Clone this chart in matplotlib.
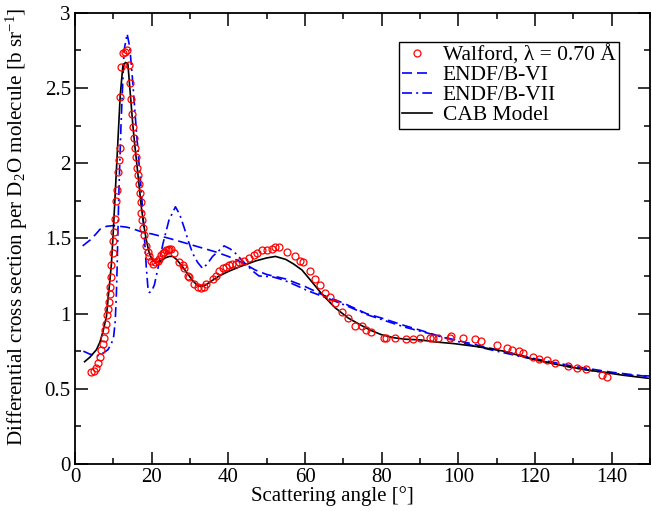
import matplotlib
matplotlib.use("Agg")
import matplotlib.pyplot as plt
from matplotlib.ticker import MultipleLocator

plt.rcParams['font.family'] = ['Liberation Serif', 'DejaVu Serif']
plt.rcParams['mathtext.fontset'] = 'custom'
plt.rcParams['mathtext.rm'] = 'Liberation Serif'
plt.rcParams['mathtext.it'] = 'Liberation Serif:italic'

# Walford measurement, lambda = 0.70 A
walford_angle = [4.3, 4.9, 5.4, 6.0, 6.6, 6.9, 7.2, 7.5, 7.9, 8.2, 8.4, 8.6, 8.9, 9.1,
                 9.2, 9.3, 9.4, 9.8, 9.9, 10.2, 10.5, 10.8, 11.0, 11.2, 11.4, 11.7,
                 11.8, 12.1, 12.5, 13.0, 13.6, 14.1, 14.3, 14.5, 14.9, 15.1, 15.4,
                 15.6, 16.0, 16.2, 16.4, 16.7, 16.9, 17.1, 17.3, 17.5, 17.8, 18.1,
                 18.6, 19.0, 19.4, 19.9, 20.3, 21.0, 21.6, 22.0, 22.5, 22.9, 23.3,
                 23.8, 24.2, 24.6, 25.1, 25.9, 27.2, 28.1, 28.5, 29.4, 29.8, 31.1,
                 32.0, 32.8, 33.7, 34.1, 35.9, 36.7, 37.6, 38.5, 39.3, 40.2, 41.0,
                 41.9, 42.8, 44.1, 45.4, 46.7, 47.5, 48.8, 50.1, 51.4, 52.3, 53.3,
                 55.3, 57.5, 58.8, 59.6, 61.4, 62.7, 64.0, 65.3, 66.5, 67.8, 69.6,
                 71.3, 73.0, 74.8, 76.0, 77.2, 80.6, 81.2, 83.4, 86.4, 88.2, 90.1,
                 92.5, 93.3, 94.6, 97.7, 98.0, 101.1, 104.3, 106.0, 110.0, 112.8,
                 114.1, 115.8, 116.9, 119.5, 121.0, 123.0, 125.3, 128.5, 130.9,
                 133.3, 137.4, 138.9]
walford_xs = [0.61, 0.62, 0.64, 0.67, 0.71, 0.76, 0.80, 0.84, 0.89, 0.93, 0.99, 1.03,
              1.08, 1.13, 1.18, 1.24, 1.32, 1.40, 1.48, 1.54, 1.63, 1.75, 1.82, 1.94,
              2.02, 2.10, 2.44, 2.64, 2.73, 2.74, 2.75, 2.65, 2.53, 2.43, 2.33, 2.24,
              2.17, 2.10, 2.04, 1.97, 1.92, 1.86, 1.80, 1.74, 1.67, 1.62, 1.57, 1.52,
              1.45, 1.41, 1.38, 1.35, 1.33, 1.34, 1.35, 1.36, 1.39, 1.40, 1.41, 1.42,
              1.42, 1.43, 1.43, 1.40, 1.34, 1.32, 1.30, 1.25, 1.24, 1.20, 1.18, 1.17,
              1.18, 1.20, 1.23, 1.25, 1.28, 1.30, 1.31, 1.32, 1.33, 1.33, 1.34, 1.35,
              1.37, 1.39, 1.40, 1.42, 1.42, 1.43, 1.44, 1.44, 1.41, 1.38, 1.35, 1.34,
              1.28, 1.23, 1.19, 1.14, 1.11, 1.07, 1.01, 0.97, 0.92, 0.92, 0.89, 0.88,
              0.84, 0.84, 0.84, 0.83, 0.83, 0.84, 0.84, 0.84, 0.84, 0.84, 0.85, 0.84,
              0.83, 0.82, 0.79, 0.77, 0.76, 0.75, 0.74, 0.71, 0.70, 0.69, 0.67, 0.65,
              0.64, 0.63, 0.59, 0.58]

# ENDF/B-VI
endf6_angle = [2.0, 4.0, 5.5, 6.5, 8.2, 10.0, 13.4, 15.0, 17.7, 20.0, 24.6, 30.0,
               36.7, 40.0, 43.6, 47.0, 50.0, 55.0, 60.0, 65.0, 70.0, 76.0, 80.0,
               86.0, 90.0, 95.0, 100.0, 105.0, 110.0, 115.0, 120.0, 125.0, 130.0,
               135.0, 140.0, 145.0, 150.0]
endf6_xs = [1.45, 1.49, 1.53, 1.56, 1.58, 1.585, 1.575, 1.565, 1.54, 1.53, 1.50, 1.46,
            1.41, 1.38, 1.34, 1.29, 1.26, 1.23, 1.18, 1.12, 1.07, 1.00, 0.97, 0.92,
            0.89, 0.85, 0.82, 0.79, 0.76, 0.73, 0.70, 0.675, 0.65, 0.63, 0.61, 0.595,
            0.58]

# ENDF/B-VII
endf7_angle = [2.2, 3.9, 6.0, 7.5, 8.6, 9.5, 10.1, 10.5, 10.8, 11.0, 11.2, 11.5, 12.0,
               12.8, 13.6, 14.3, 15.1, 16.0, 16.7, 17.3, 18.1, 18.6, 19.0, 19.4,
               20.0, 20.7, 21.8, 22.9, 24.5, 26.2, 27.3, 28.5, 29.6, 30.7, 32.0,
               33.3, 34.5, 35.9, 38.9, 40.5, 41.9, 44.5, 46.5, 48.0, 51.4, 53.5,
               55.7, 60.9, 66.1, 71.0, 76.5, 86.0, 95.0, 103.3, 110.0, 120.6, 130.0,
               137.8, 145.0, 150.0]
endf7_xs = [0.75, 0.73, 0.72, 0.74, 0.76, 0.80, 0.85, 0.95, 1.13, 1.31, 1.55, 1.85,
            2.25, 2.75, 2.86, 2.77, 2.53, 2.22, 2.00, 1.82, 1.51, 1.31, 1.18, 1.14,
            1.15, 1.19, 1.32, 1.46, 1.62, 1.71, 1.66, 1.57, 1.48, 1.40, 1.34, 1.30,
            1.33, 1.38, 1.45, 1.43, 1.40, 1.33, 1.28, 1.25, 1.245, 1.23, 1.21, 1.15,
            1.10, 1.05, 0.99, 0.91, 0.85, 0.79, 0.75, 0.69, 0.64, 0.61, 0.59, 0.585]

# CAB model
cab_angle = [2.5, 3.9, 5.6, 6.5, 7.3, 8.2, 8.6, 9.1, 9.5, 10.0, 10.5, 11.2, 11.8,
             12.5, 13.2, 13.8, 14.5, 15.1, 15.6, 16.4, 17.3, 18.0, 18.6, 19.4, 20.3,
             21.2, 22.5, 23.5, 24.6, 25.5, 26.5, 28.1, 29.5, 30.7, 31.8, 32.8, 34.1,
             35.8, 37.6, 40.0, 42.8, 45.0, 47.1, 50.0, 52.3, 55.0, 57.0, 59.2, 61.5,
             64.4, 67.8, 71.3, 74.8, 77.0, 79.9, 83.0, 86.0, 90.0, 94.6, 99.0, 105.0,
             111.9, 116.0, 120.6, 125.0, 129.2, 133.5, 137.8, 143.0, 149.5]
cab_xs = [0.68, 0.71, 0.76, 0.81, 0.88, 0.98, 1.09, 1.22, 1.33, 1.55, 1.80, 2.15, 2.45,
          2.65, 2.67, 2.66, 2.44, 2.25, 2.12, 1.93, 1.71, 1.58, 1.49, 1.40, 1.35, 1.34,
          1.35, 1.37, 1.38, 1.38, 1.36, 1.31, 1.26, 1.22, 1.19, 1.18, 1.19, 1.22,
          1.25, 1.28, 1.31, 1.33, 1.35, 1.37, 1.38, 1.36, 1.33, 1.29, 1.22, 1.13,
          1.04, 0.97, 0.92, 0.89, 0.86, 0.84, 0.83, 0.825, 0.81, 0.80, 0.78, 0.75,
          0.72, 0.69, 0.665, 0.645, 0.625, 0.61, 0.59, 0.57]

fig = plt.figure(figsize=(6.52, 5.11), dpi=100)
ax = fig.add_axes([0.115, 0.092, 0.882, 0.883])

ax.plot(walford_angle, walford_xs, linestyle='none', marker='o', markersize=5,
        markerfacecolor='none', markeredgecolor='red', markeredgewidth=0.9,
        label='Walford, λ = 0.70 Å', zorder=3)
ax.plot(endf6_angle, endf6_xs, color='blue', linewidth=1.2, dashes=(6, 3),
        label='ENDF/B-VI')
ax.plot(endf7_angle, endf7_xs, color='blue', linewidth=1.2, dashes=(6, 2.5, 1.2, 2.5),
        label='ENDF/B-VII')
ax.plot(cab_angle, cab_xs, color='black', linewidth=1.2, label='CAB Model')

ax.set_xlim(0, 150)
ax.set_ylim(0, 3)
ax.xaxis.set_major_locator(MultipleLocator(20))
ax.xaxis.set_minor_locator(MultipleLocator(10))
ax.yaxis.set_major_locator(MultipleLocator(0.5))
ax.yaxis.set_minor_locator(MultipleLocator(0.25))
ax.yaxis.set_major_formatter(plt.FuncFormatter(lambda v, p: f'{v:g}'))
ax.tick_params(which='both', direction='in', top=True, right=True,
               labelsize=15, width=1.1)
ax.tick_params(which='major', length=9, pad=3)
ax.tick_params(which='minor', length=4.5)
for s in ax.spines.values():
    s.set_linewidth(1.3)

ax.set_xlabel('Scattering angle [°]', fontsize=15, labelpad=0)
ax.xaxis.set_label_coords(0.447, -0.048)
ax.set_ylabel('Differential cross section per D$_2$O molecule [b sr$^{-1}$]',
              fontsize=15.2, labelpad=4)
ax.yaxis.set_label_coords(-0.078, 0.525)

leg = ax.legend(loc='upper right', bbox_to_anchor=(0.946, 0.936), borderaxespad=0,
                fontsize=15.5, numpoints=1, handlelength=1.4, handletextpad=0.5,
                labelspacing=0.0, borderpad=0.15, fancybox=False, framealpha=1,
                edgecolor='black')
leg.get_frame().set_linewidth(1.0)

plt.savefig('out.png', dpi=100)
